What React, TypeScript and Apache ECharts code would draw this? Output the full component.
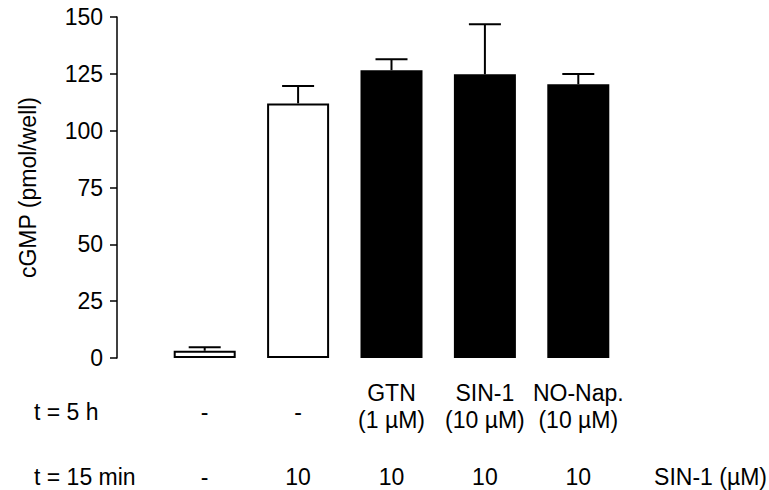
import React, { useEffect, useRef } from "react";
import * as echarts from "echarts";

const pretreat5h = ["-", "-", "GTN\n(1 µM)", "SIN-1\n(10 µM)", "NO-Nap.\n(10 µM)"];
const sin1Row = ["-", "10", "10", "10", "10"];
const categories = ["ctrl", "sin1", "gtn", "sin1pre", "nonap"];
const means = [3.2, 112.0, 126.6, 124.8, 120.4];
const sems = [1.5, 7.6, 4.8, 22.0, 4.5];
const barFills = ["#ffffff", "#ffffff", "#000000", "#000000", "#000000"];
const yTicks = [0, 25, 50, 75, 100, 125, 150];

const FONT = "'Liberation Sans', Arial, sans-serif";
const FS = 23;

export default function App() {
  const ref = useRef<HTMLDivElement>(null);
  useEffect(() => {
    if (!ref.current) return;
    const chart = echarts.init(ref.current, undefined, { renderer: "svg" });
    const option: any = {
      animation: false,
      backgroundColor: "#ffffff",
      textStyle: { fontFamily: FONT, color: "#000" },
      grid: { left: 158, right: 144, top: 17, bottom: 132, containLabel: false },
      xAxis: {
        type: "category",
        data: categories,
        axisLine: { show: false },
        axisTick: { show: false },
        axisLabel: {
          interval: 0,
          margin: 21,
          color: "#000",
          fontFamily: FONT,
          fontSize: FS,
          formatter: (_v: string, i: number) => {
            const p = pretreat5h[i];
            if (p.indexOf("\n") >= 0) {
              const [a, b] = p.split("\n");
              return `{t|${a}}\n{t|${b}}\n{r2|${sin1Row[i]}}`;
            }
            return `{d|${p}}\n{r1|${sin1Row[i]}}`;
          },
          rich: {
            t: { fontFamily: FONT, fontSize: FS, lineHeight: 27, color: "#000" },
            d: { fontFamily: FONT, fontSize: FS, lineHeight: 66, color: "#000" },
            r1: { fontFamily: FONT, fontSize: FS, lineHeight: 63, color: "#000" },
            r2: { fontFamily: FONT, fontSize: FS, lineHeight: 87, color: "#000" },
          },
        },
      },
      yAxis: {
        type: "value",
        min: yTicks[0],
        max: yTicks[yTicks.length - 1],
        interval: 25,
        offset: 41,
        name: "cGMP (pmol/well)",
        nameLocation: "middle",
        nameRotate: 90,
        nameGap: 78,
        nameTextStyle: { fontFamily: FONT, fontSize: FS, color: "#000" },
        axisLine: { show: true, lineStyle: { color: "#000", width: 1.5 } },
        axisTick: { show: true, length: 7, lineStyle: { color: "#000", width: 1.5 } },
        axisLabel: { margin: 14, color: "#000", fontFamily: FONT, fontSize: FS },
        splitLine: { show: false },
      },
      graphic: [
        { type: "text", x: 34, y: 412, style: { text: "t = 5 h", font: `${FS}px ${FONT}`, fill: "#000", align: "left", verticalAlign: "middle" } },
        { type: "text", x: 34, y: 477, style: { text: "t = 15 min", font: `${FS}px ${FONT}`, fill: "#000", align: "left", verticalAlign: "middle" } },
        { type: "text", x: 767, y: 477, style: { text: "SIN-1 (µM)", font: `${FS}px ${FONT}`, fill: "#000", align: "right", verticalAlign: "middle" } },
      ],
      series: [
        {
          type: "bar",
          barWidth: 62,
          data: means.map((m, i) => ({
            value: m,
            itemStyle: { color: barFills[i], borderColor: "#000", borderWidth: 2 },
          })),
          z: 2,
        },
        {
          type: "custom",
          z: 3,
          data: means.map((m, i) => [i, m, m + sems[i]]),
          renderItem: (params: any, api: any) => {
            const x = api.value(0);
            const lo = api.coord([x, api.value(1)]);
            const hi = api.coord([x, api.value(2)]);
            const half = 16;
            const style = { stroke: "#000", lineWidth: 2 };
            return {
              type: "group",
              children: [
                { type: "line", shape: { x1: lo[0], y1: lo[1], x2: hi[0], y2: hi[1] }, style },
                { type: "line", shape: { x1: hi[0] - half, y1: hi[1], x2: hi[0] + half, y2: hi[1] }, style },
              ],
            };
          },
        },
      ],
    };
    chart.setOption(option);
    return () => chart.dispose();
  }, []);
  return <div ref={ref} style={{ position: "fixed", left: 0, top: 0, width: 769, height: 490 }} />;
}
